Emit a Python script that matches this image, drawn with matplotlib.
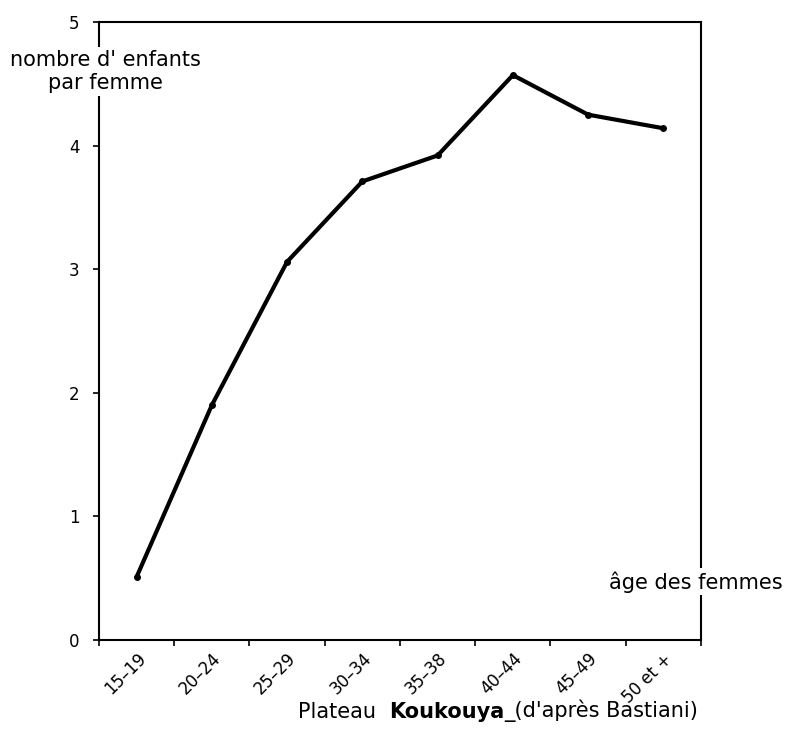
import numpy as np
import matplotlib
matplotlib.use("Agg")
import matplotlib.pyplot as plt

# age groups and mean number of children per woman
age_groups = ["15–19", "20–24", "25–29", "30–34", "35–38", "40–44", "45–49", "50 et +"]
children = [0.51, 1.90, 3.06, 3.71, 3.92, 4.57, 4.25, 4.14]
y_ticks = [0, 1, 2, 3, 4, 5]

fig = plt.figure(figsize=(7.88, 7.3), dpi=100)
ax = fig.add_axes([0.1256, 0.1233, 0.7640, 0.8466])

x = np.arange(len(age_groups))
ax.plot(x, children, color="black", linewidth=3, marker="o", markersize=4,
        solid_capstyle="round")

ax.set_xlim(-0.5, len(age_groups) - 0.5)
ax.set_ylim(0, 5)

# ticks at the class boundaries, labels at the class centres
ax.set_xticks(np.arange(-0.5, len(age_groups), 1.0))
ax.set_xticklabels([])
ax.set_xticks(x, minor=True)
ax.set_xticklabels(age_groups, minor=True, rotation=45, ha="right", va="top",
                   rotation_mode="anchor", fontsize=12)
ax.tick_params(axis="x", which="minor", length=0, pad=7)
ax.tick_params(axis="x", which="major", length=4, width=1.2, direction="out")

ax.set_yticks(y_ticks)
ax.set_yticklabels([str(v) for v in y_ticks], fontsize=12)
ax.tick_params(axis="y", length=4, width=1.2, direction="out", pad=10)

for sp in ax.spines.values():
    sp.set_linewidth(1.5)
    sp.set_color("black")

# axis labels sitting over the spines
ax.text(0.01, 4.6, "nombre d' enfants\npar femme", fontsize=15, ha="center",
        va="center", multialignment="center", linespacing=1.2,
        transform=ax.get_yaxis_transform(),
        bbox=dict(facecolor="white", edgecolor="none", pad=2))
ax.text(0.992, 0.47, "âge des femmes", fontsize=15, ha="center", va="center",
        transform=ax.get_yaxis_transform(),
        bbox=dict(facecolor="white", edgecolor="none", pad=2))

# caption
t1 = fig.text(0.378, 0.0164, "Plateau  ", fontsize=15, ha="left", va="baseline")
t2 = ax.annotate("Koukouya", xy=(1, 0), xycoords=t1, fontsize=15,
                 fontweight="bold", ha="left", va="bottom")
ax.annotate("_(d'après Bastiani)", xy=(1, 0), xycoords=t2, fontsize=15,
            ha="left", va="bottom")

fig.savefig("out.png", dpi=100)
